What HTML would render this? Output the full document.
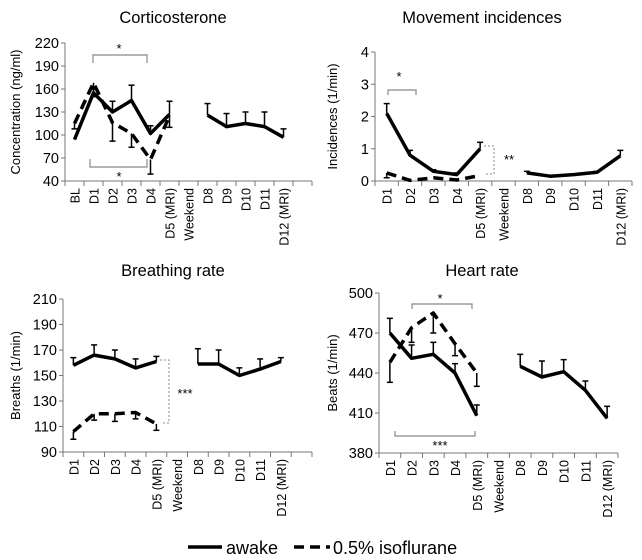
<!DOCTYPE html>
<html><head><meta charset="utf-8">
<style>
body{margin:0;background:#fff;}
svg{display:block;font-family:"Liberation Sans","DejaVu Sans",sans-serif;}
</style></head>
<body>
<svg id="c" width="642" height="560" viewBox="0 0 642 560"></svg>
<script>
// ---- Corticosterone ----
const cortCats = ["BL","D1","D2","D3","D4","D5 (MRI)","Weekend","D8","D9","D10","D11","D12 (MRI)",""];
const cortTicks = [40,70,100,130,160,190,220];
const cortAwake = [94,155,130,145,102,127,null,126,111,115,111,97,null];
const cortAwakeErr = [null,160,144,165,112,144,null,141,128,130,130,108,null];
const cortIso = [115,168,116,102,68,125,null,null,null,null,null,null,null];
const cortIsoErr = [108,150,92,84,49,110,null,null,null,null,null,null,null];
// ---- Movement ----
const movCats = ["D1","D2","D3","D4","D5 (MRI)","Weekend","D8","D9","D10","D11","D12 (MRI)"];
const movTicks = [0,1,2,3,4];
const movAwake = [2.1,0.8,0.3,0.2,1.0,null,0.25,0.15,0.2,0.27,0.78];
const movAwakeErr = [2.4,0.95,0.35,0.25,1.2,null,0.3,null,null,0.3,0.95];
const movIso = [0.25,0.02,0.1,0.03,0.17,null,null,null,null,null,null];
const movIsoErr = [0.1,null,null,null,null,null,null,null,null,null,null];
// ---- Breathing ----
const brCats = ["D1","D2","D3","D4","D5 (MRI)","Weekend","D8","D9","D10","D11","D12 (MRI)",""];
const brTicks = [90,110,130,150,170,190,210];
const brAwake = [158,166,163,156,161,null,159,159,150,155,161,null];
const brAwakeErr = [164,174,170,163,165,null,171,170,156,163,164,null];
const brIso = [106,120,120,121,112,null,null,null,null,null,null,null];
const brIsoErr = [100,115,114,116,107,null,null,null,null,null,null,null];
// ---- Heart ----
const hrCats = ["D1","D2","D3","D4","D5 (MRI)","Weekend","D8","D9","D10","D11","D12 (MRI)"];
const hrTicks = [380,410,440,470,500];
const hrAwake = [470,451,454,440,408,null,445,437,441,427,406];
const hrAwakeErr = [481,461,463,447,416,null,454,449,450,434,415];
const hrIso = [448,474,485,462,440,null,null,null,null,null,null];
const hrIsoErr = [433,463,470,453,430,null,null,null,null,null,null];

const NS="http://www.w3.org/2000/svg";
const root=document.getElementById('c');
function mk(tag,attrs,parent,txt){const e=document.createElementNS(NS,tag);for(const k in attrs)e.setAttribute(k,attrs[k]);if(txt!==undefined)e.textContent=txt;(parent||root).appendChild(e);return e;}

function panel(o){
  const g=mk('g',{});
  
  
  const n=o.cats.length, step=o.xw/n;
  const ymin=o.ticks[0], ymax=o.ticks[o.ticks.length-1];
  const X=i=>o.x0+(i+0.5)*step;
  const Y=v=>o.yb-(v-ymin)/(ymax-ymin)*(o.yb-o.yt);
  const t=mk('text',{x:o.tx,y:o.ty,'text-anchor':'middle','font-size':16.5},g,o.title);
  
  
  const yl=mk('text',{x:0,y:0,'text-anchor':'middle','font-size':13,transform:`translate(${o.ylx},${(o.yt+o.yb)/2}) rotate(-90)`},g,o.ylabel);
  
  
  mk('line',{x1:o.x0,y1:o.yt,x2:o.x0,y2:o.yb,stroke:'#777','stroke-width':1},g);
  mk('line',{x1:o.x0,y1:o.yb,x2:o.x0+o.xw,y2:o.yb,stroke:'#777','stroke-width':1},g);
  o.ticks.forEach(v=>{
    mk('line',{x1:o.x0-4,y1:Y(v),x2:o.x0,y2:Y(v),stroke:'#777'},g);
    const tl=mk('text',{x:o.x0-6,y:Y(v)+5,'text-anchor':'end','font-size':14.5},g,String(v));
    
    
  });
  for(let i=0;i<=n;i++) mk('line',{x1:o.x0+i*step,y1:o.yb,x2:o.x0+i*step,y2:o.yb+5,stroke:'#777'},g);
  o.cats.forEach((c,i)=>{
    if(!c)return;
    const xl=mk('text',{x:0,y:0,'text-anchor':'end','font-size':12.5,transform:`translate(${X(i)+5},${o.yb+7}) rotate(-90)`},g,c);
    
    
  });
  function series(vals,errs,dash,nm){
    errs.forEach((e,i)=>{
      if(e==null||vals[i]==null)return;
      mk('line',{x1:X(i),y1:Y(vals[i]),x2:X(i),y2:Y(e),stroke:'#000','stroke-width':1.5},g);
      mk('line',{x1:X(i)-3,y1:Y(e),x2:X(i)+3,y2:Y(e),stroke:'#000','stroke-width':1.5},g);
    });
    let d='',pen=false;
    vals.forEach((v,i)=>{if(v==null){pen=false;return;}d+=(pen?'L':'M')+X(i).toFixed(1)+','+Y(v).toFixed(1);pen=true;});
    const p=mk('path',{d:d,fill:'none',stroke:'#000','stroke-width':3.5,'stroke-dasharray':dash?'10,6':'none','stroke-linejoin':'round'},g);
    
    
  }
  series(o.iso,o.isoErr,true,'isoflurane-line');
  series(o.awake,o.awakeErr,false,'awake-line');
  (o.extras||[]).forEach(f=>f(g,X,Y));
  return g;
}
function bracket(g,x1,x2,y,dy,dotted){
  mk('path',{d:`M${x1},${y+dy}L${x1},${y}L${x2},${y}L${x2},${y+dy}`,fill:'none',stroke:'#888','stroke-width':1.2,'stroke-dasharray':dotted?'2,2':'none'},g);
}
function star(g,x,y,s){const t=mk('text',{x:x,y:y,'text-anchor':'middle','font-size':13},g,s);}

panel({name:'corticosterone-chart',title:'Corticosterone',tx:173,ty:23,ylabel:'Concentration (ng/ml)',ylx:20,
  x0:65,xw:247,yt:43,yb:181,cats:cortCats,ticks:cortTicks,awake:cortAwake,awakeErr:cortAwakeErr,iso:cortIso,isoErr:cortIsoErr,
  extras:[g=>{bracket(g,93,147,55,8);star(g,119,53,'*');bracket(g,90,147,167,-8);star(g,119,181,'*');}]});
panel({name:'movement-chart',title:'Movement incidences',tx:482,ty:23,ylabel:'Incidences (1/min)',ylx:337,
  x0:375,xw:257,yt:52,yb:181,cats:movCats,ticks:movTicks,awake:movAwake,awakeErr:movAwakeErr,iso:movIso,isoErr:movIsoErr,
  extras:[g=>{bracket(g,388,416,90,5);star(g,399,81,'*');
    mk('path',{d:'M484,146L494,146L494,174L486,174',fill:'none',stroke:'#888','stroke-dasharray':'2,2'},g);star(g,509,164,'**');}]});
panel({name:'breathing-rate-chart',title:'Breathing rate',tx:173,ty:276,ylabel:'Breaths (1/min)',ylx:20,
  x0:63,xw:249,yt:299,yb:452,cats:brCats,ticks:brTicks,awake:brAwake,awakeErr:brAwakeErr,iso:brIso,isoErr:brIsoErr,
  extras:[g=>{mk('path',{d:'M160,360L169,360L169,423L162,423',fill:'none',stroke:'#888','stroke-dasharray':'2,2'},g);star(g,185,398,'***');}]});
panel({name:'heart-rate-chart',title:'Heart rate',tx:482,ty:276,ylabel:'Beats (1/min)',ylx:337,
  x0:379,xw:239,yt:293,yb:453,cats:hrCats,ticks:hrTicks,awake:hrAwake,awakeErr:hrAwakeErr,iso:hrIso,isoErr:hrIsoErr,
  extras:[g=>{bracket(g,412,472,304,5);star(g,440,303,'*');bracket(g,395,475,436,-5);star(g,440,450,'***');}]});

const lg=mk('g',{});


mk('line',{x1:188,y1:547,x2:222,y2:547,stroke:'#000','stroke-width':3.5},lg);
const l1=mk('text',{x:226,y:554,'font-size':18},lg,'awake');


mk('line',{x1:294,y1:547,x2:330,y2:547,stroke:'#000','stroke-width':3.5,'stroke-dasharray':'10,6'},lg);
const l2=mk('text',{x:333,y:554,'font-size':18},lg,'0.5% isoflurane');


</script>
</body></html>
